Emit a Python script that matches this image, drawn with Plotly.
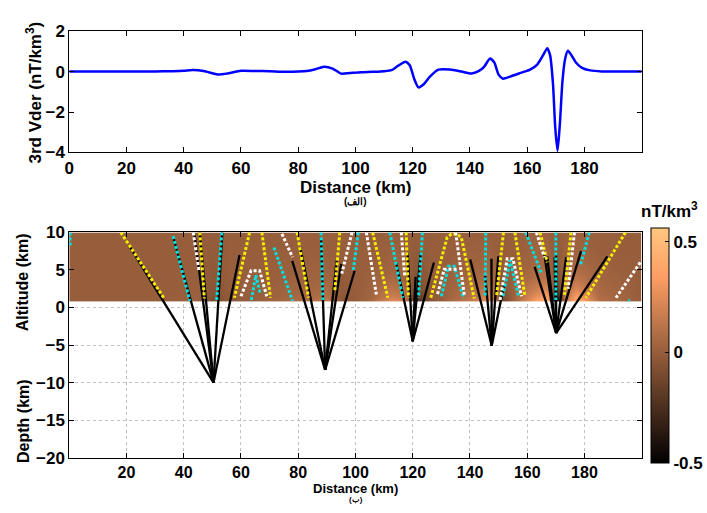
import plotly.graph_objects as go

# ---------------- top profile (3rd vertical derivative) ----------------
prof_x = [0, 10, 20, 30, 36, 40, 43, 47, 50, 52, 55, 60, 65, 70, 75, 80, 83, 86, 89, 92, 95, 98,
          102, 106, 110, 113, 115, 117.5, 119, 120.5, 122, 124, 126, 129, 133, 137, 140.5, 143, 145,
          147, 148.5, 150, 151.5, 154, 158, 161, 163.5, 165.5, 167, 168, 169, 169.8, 170.6, 171.4,
          172.3, 173.2, 174.2, 175.5, 177, 179, 182, 186, 190, 200]
prof_y = [0, 0, 0, 0.01, 0.02, 0.04, 0.08, 0.03, -0.08, -0.14, -0.1, 0.04, 0.03, 0.02, -0.01, 0.0,
          0.03, 0.12, 0.24, 0.15, -0.1, -0.07, -0.03, -0.01, 0.02, 0.1, 0.3, 0.49, 0.3, -0.35, -0.78,
          -0.6, -0.25, 0.1, 0.1, 0.0, -0.1, 0.02, 0.25, 0.65, 0.45, -0.15, -0.35, -0.25, -0.05, 0.1,
          0.35, 0.8, 1.16, 0.8, -0.6, -2.8, -3.92, -2.6, -0.5, 0.6, 1.03, 0.8, 0.45, 0.2, 0.06, 0.01,
          0.0, 0.0]

# ---------------- heatmap (upward-continued field) ----------------
hm_x = [0, 30, 45, 50, 55, 70, 85, 90, 95, 105, 113, 117, 121, 126, 135, 143, 147, 151, 157, 163,
        167, 170, 173, 177, 185, 200]
hm_alt = [1.0, 1.5, 2.5, 4, 6, 8, 10]
hm_z = [
    [0, 0, 0.02, -0.10, -0.03, 0.03, 0.10, 0.15, -0.05, 0.05, 0.25, 0.20, -0.30, -0.05, 0.08, 0.20, 0.30, -0.15, 0.10, 0.35, 0.45, -0.60, 0.10, 0.45, 0.10, 0],
    [0, 0, 0.02, -0.07, -0.02, 0.02, 0.08, 0.10, -0.03, 0.04, 0.18, 0.14, -0.20, -0.03, 0.06, 0.15, 0.22, -0.10, 0.08, 0.28, 0.35, -0.40, 0.10, 0.35, 0.08, 0],
    [0, 0, 0.01, -0.05, -0.01, 0.02, 0.05, 0.07, -0.02, 0.03, 0.12, 0.08, -0.12, -0.02, 0.05, 0.10, 0.14, -0.06, 0.06, 0.18, 0.22, -0.22, 0.08, 0.22, 0.06, 0],
    [0, 0, 0.01, -0.03, 0, 0.01, 0.03, 0.04, -0.01, 0.02, 0.06, 0.04, -0.06, -0.01, 0.03, 0.06, 0.07, -0.03, 0.04, 0.10, 0.12, -0.10, 0.05, 0.12, 0.04, 0],
    [0, 0, 0, -0.02, 0, 0.01, 0.02, 0.02, 0, 0.01, 0.03, 0.02, -0.03, 0, 0.02, 0.03, 0.04, -0.01, 0.02, 0.05, 0.06, -0.04, 0.03, 0.06, 0.02, 0],
    [0, 0, 0, -0.01, 0, 0, 0.01, 0.01, 0, 0.01, 0.02, 0.01, -0.01, 0, 0.01, 0.02, 0.02, 0, 0.01, 0.03, 0.03, -0.02, 0.02, 0.03, 0.01, 0],
    [0, 0, 0, 0, 0, 0, 0.01, 0.01, 0, 0, 0.01, 0.01, -0.01, 0, 0.01, 0.01, 0.01, 0, 0.01, 0.02, 0.02, -0.01, 0.01, 0.02, 0.01, 0],
]

# ---------------- ridges (x list, altitude list) ----------------
yellow_ridges = [
    ([18, 33], [10, 1.3]),
    ([45.6, 47.2], [10, 1.2]),
    ([63, 57.7], [10, 1.3]),
    ([67.3, 70.3], [10, 1.3]),
    ([79.6, 83.6], [10, 1.3]),
    ([94.5, 92.8], [10, 2.3]),
    ([106, 111.3], [10, 1.3]),
    ([117.7, 118.5], [10, 1.3]),
    ([126.3, 132, 133.5, 135.5, 137, 141.5], [1.3, 9.3, 9.8, 9.8, 9.3, 1.2]),
    ([151.7, 149.3], [10, 1.5]),
    ([155.7, 159.2], [10, 1.5]),
    ([164.5, 167], [10, 6]),
    ([175.3, 173], [10, 1.7]),
    ([194.3, 180.5], [10, 1.3]),
]
cyan_ridges = [
    ([0.3, 0.3], [10, 8]),
    ([36.3, 42.1], [9.5, 0.9]),
    ([53.3, 51.5], [10, 1]),
    ([63.6, 65.2, 66.6], [1, 4.3, 2]),
    ([71.5, 78], [8, 0.9]),
    ([88, 88.6], [10, 1]),
    ([101, 99.2], [10, 4.9]),
    ([112, 116.5], [10, 1.3]),
    ([123.4, 122], [10, 1.3]),
    ([130, 132.5, 134.5, 137.8], [1.5, 5.5, 5.5, 1.2]),
    ([145.5, 145.3], [10, 1.5]),
    ([151.5, 154, 157], [1.5, 6.3, 1.5]),
    ([159.5, 165], [10, 4.5]),
    ([170, 170], [10, 1]),
    ([181.7, 178.5], [10, 5.5]),
    ([195.3, 195.8], [1.0, 0.9]),
]
white_ridges = [
    ([43.3, 45.3], [10, 5]),
    ([60, 63.5, 66.5, 69], [1.5, 4.9, 4.9, 1.5]),
    ([74.3, 78], [9.8, 6.7]),
    ([98.8, 95.2], [10, 4.5]),
    ([103.8, 107.3], [10, 1.7]),
    ([116, 117.2], [10, 4.2]),
    ([135, 138], [10, 1.7]),
    ([135.3, 131, 128.6], [5.1, 5.1, 1.7]),
    ([150.5, 153, 155, 158], [1, 6.5, 6.5, 1.5]),
    ([163.2, 166], [10, 6.7]),
    ([176.5, 174.3], [10, 2.5]),
    ([199.5, 191], [6, 1.3]),
]

# ---------------- sources and rays ----------------
src_x = [50.4, 89.4, 120, 147.6, 170.1]
src_alt = [-10, -8.3, -4.5, -5.1, -3.4]
ray_tops = [
    [(20.8, 8.3), (36.3, 9.4), (43.8, 9.6), (45.6, 10), (53.5, 10), (59.5, 7)],
    [(77.9, 6.2), (80.7, 8), (88, 9), (93.4, 6.2), (95, 5.8), (99.7, 4.9)],
    [(114.2, 6), (118.2, 7.3), (121, 4.1), (122.8, 7.3), (127.4, 6)],
    [(140.1, 6.4), (145.3, 4.2), (147.5, 6.5), (149.9, 6.8), (152, 3.2)],
    [(162.6, 5.4), (166, 7), (167, 6.8), (169.6, 6.7), (170.1, 7), (173.6, 6.7), (178.8, 7.5), (188, 6.8)],
]

# ---------------- styling ----------------
W, H = 707, 513
FONT = "Liberation Sans, Arial, sans-serif"
copper = [[0.0, "rgb(0,0,0)"], [0.8, "rgb(255,159,101)"], [1.0, "rgb(255,199,127)"]]

fig = go.Figure()

fig.add_trace(go.Scatter(x=prof_x, y=prof_y, mode="lines", line=dict(color="#0000ff", width=2.5, shape="spline", smoothing=0.6),
                         xaxis="x", yaxis="y", showlegend=False, hoverinfo="skip"))

fig.add_trace(go.Heatmap(x=hm_x, y=hm_alt, z=hm_z, zmin=-0.5, zmax=0.5625, colorscale=copper,
                         zsmooth="best", xaxis="x2", yaxis="y2",
                         colorbar=dict(x=653 / W, xanchor="left", y=1 - 349.5 / H, yanchor="middle",
                                       len=235, lenmode="pixels", thickness=18, thicknessmode="pixels",
                                       outlinewidth=1, outlinecolor="black",
                                       tickvals=[-0.5, 0, 0.5], ticktext=["-0.5", "0", "0.5"],
                                       ticks="inside", ticklen=4, tickcolor="black",
                                       tickfont=dict(family=FONT, size=17, color="black", weight="bold"),
                                       xpad=0, ypad=0)))

# rays (black lines from sources)
for sx, sz, tops in zip(src_x, src_alt, ray_tops):
    xs, ys = [], []
    for tx, tz in tops:
        xs += [sx, tx, None]
        ys += [sz, tz, None]
    fig.add_trace(go.Scatter(x=xs, y=ys, mode="lines", line=dict(color="black", width=2.3),
                             xaxis="x2", yaxis="y2", showlegend=False, hoverinfo="skip"))

for ridges, col in [(yellow_ridges, "#f5ee00"), (cyan_ridges, "#00e0e0"), (white_ridges, "#ffffff")]:
    for rx, rz in ridges:
        fig.add_trace(go.Scatter(x=rx, y=rz, mode="lines", line=dict(color=col, width=3, dash="3px,2px"),
                                 xaxis="x2", yaxis="y2", showlegend=False, hoverinfo="skip"))

tickfont = dict(family=FONT, size=17, color="black", weight="bold")
common = dict(showline=True, linecolor="black", linewidth=1, mirror="allticks", ticks="inside",
              ticklen=5, tickcolor="black", zeroline=False)

fig.update_layout(
    width=W, height=H, margin=dict(l=0, r=0, t=0, b=0),
    paper_bgcolor="white", plot_bgcolor="white",
    xaxis=dict(domain=[65 / W, 644 / W], range=[0, 200], tickvals=list(range(0, 200, 20)),
               showgrid=False, anchor="y", tickfont=tickfont, **common),
    yaxis=dict(domain=[1 - 149 / H, 1 - 23 / H], range=[-4, 2], tickvals=[-4, -2, 0, 2],
               showgrid=False, anchor="x", tickfont=tickfont, **common),
    xaxis2=dict(domain=[65 / W, 644 / W], range=[0, 200], tickvals=list(range(20, 200, 20)),
                showgrid=True, gridcolor="#c0c0c0", griddash="dot", gridwidth=1, anchor="y2",
                tickfont=dict(family=FONT, size=16, color="black", weight="bold"), **common),
    yaxis2=dict(domain=[1 - 466 / H, 1 - 232 / H], range=[-20, 10], tickvals=list(range(-20, 15, 5)),
                showgrid=True, gridcolor="#c0c0c0", griddash="dot", gridwidth=1, anchor="x2",
                tickfont=tickfont, **common),
)

def ann(text, px, py, size, angle=0, bold=True):
    fig.add_annotation(text=text, x=px / W, y=1 - py / H, xref="paper", yref="paper",
                       showarrow=False, textangle=angle, xanchor="center", yanchor="middle",
                       font=dict(family=FONT, size=size, color="black", weight="bold" if bold else "normal"))

ann("Distance (km)", 355, 185, 17)
ann("(الف)", 355, 200, 10)
ann("Distance (km)", 355, 497.5, 13)
ann("(ب)", 355, 509, 8)
ann("3rd Vder (nT/km<sup>3</sup>)", 29, 87, 17, angle=-90)
ann("Altitude (km)", 18, 284, 16, angle=-90)
ann("Depth (km)", 18, 428, 16, angle=-90)
ann("nT/km<sup>3</sup>", 672, 209, 17)

fig.write_html("out.html")
